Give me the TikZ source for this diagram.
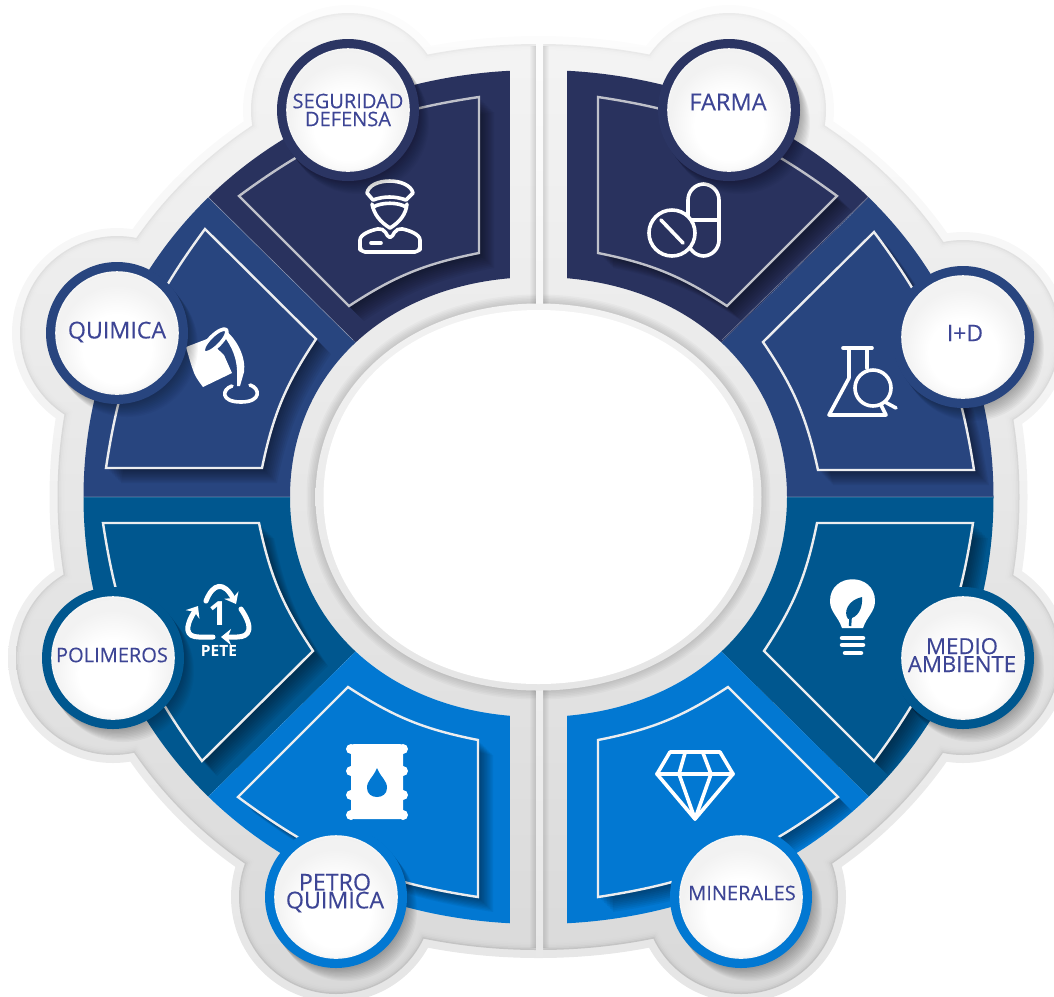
\documentclass[tikz,border=0pt]{standalone}
\usepackage{fontspec}
\setmainfont{Open Sans}
\newfontfamily\labelfont[FakeBold=0.2]{Open Sans}
\usetikzlibrary{arrows.meta}
\definecolor{navy}{HTML}{2B3563}
\definecolor{navyin}{HTML}{29325E}
\definecolor{royal}{HTML}{28457F}
\definecolor{petrol}{HTML}{00578F}
\definecolor{azure}{HTML}{0278D2}
\definecolor{labelblue}{HTML}{3D4595}
\definecolor{edgenavy}{HTML}{BFC1CA}
\definecolor{edgelight}{HTML}{ECEDEF}
\pgfdeclareradialshading{badgeface}{\pgfpoint{0bp}{-9bp}}{color(0bp)=(white); color(14bp)=(white); color(24bp)=(white!90!gray); color(50bp)=(white!86!gray)}

% squarish oval round the centre: x radius, y radius, handle length
\newcommand{\ovalpath}[3]{({538.5-(#1)},497)
  .. controls ({538.5-(#1)},{497-(#3)*(#2)}) and ({538.5-(#3)*(#1)},{497-(#2)}) .. (538.5,{497-(#2)})
  .. controls ({538.5+(#3)*(#1)},{497-(#2)}) and ({538.5+(#1)},{497-(#3)*(#2)}) .. ({538.5+(#1)},497)
  .. controls ({538.5+(#1)},{497+(#3)*(#2)}) and ({538.5+(#3)*(#1)},{497+(#2)}) .. (538.5,{497+(#2)})
  .. controls ({538.5-(#3)*(#1)},{497+(#2)}) and ({538.5-(#1)},{497+(#3)*(#2)}) .. ({538.5-(#1)},497) -- cycle}
% panel outline, clockwise from the outer arc
\newcommand{\panelpath}[4]{#1 to[bend left=14] #2 -- #3 to[bend right=11] #4 -- cycle}
\newcommand{\backingpath}[1]{\ovalpath{481+#1}{453+#1}{0.58}
  (348,110) circle ({97+#1}) (729,110) circle ({97+#1})
  (117,333) circle ({97+#1}) (963,337) circle ({97+#1})
  (113,658) circle ({97+#1}) (963,658) circle ({97+#1})
  (336,897) circle ({97+#1}) (741,897) circle ({97+#1})}
\newcommand{\sectorpanel}[7]{
  \begin{scope}
    \clip #2;
    \fill[#1] #2;
    \foreach \s in {1,...,10} {
      \fill[black,opacity=0.05,shift={(\s*1.5,\s*1.5)}] \panelpath{#3}{#4}{#5}{#6};
    }
    \fill[#1] \panelpath{#3}{#4}{#5}{#6};
    \draw[#7,line width=0.024cm] \panelpath{#3}{#4}{#5}{#6};
  \end{scope}
}

\begin{document}
\begin{tikzpicture}[
  x=0.01cm,y=-0.01cm,
  badge/.style={circle,minimum size=1.22cm,inner sep=0pt,shading=badgeface,
    draw=white!92!gray,line width=0.015cm},
  iconline/.style={draw=white,line width=0.036cm,line join=round,line cap=round},
  recycle/.style={iconline,line width=0.05cm,-{Stealth[length=0.1cm,width=0.16cm]}},
  tag/.style={font=\labelfont\fontsize{#1}{5.1}\selectfont,text=labelblue,align=center}
  ]
  \useasboundingbox (0,0) rectangle (1054,996);

  % grey backing
  \shade[top color=white!98!gray,middle color=white!93!gray,bottom color=white!80!gray] \backingpath{8};
  \shade[top color=white!84!gray,middle color=white!74!gray,bottom color=white!52!gray] \backingpath{0};
  \foreach \d in {1,...,5} {
    \shade[opacity=0.45,top color=white!93!gray,middle color=white!84!gray,bottom color=white!72!gray] \backingpath{-\d*1.5};
  }
  \foreach \d in {1,...,6} {
    \fill[black,opacity=0.02] (536-\d,46) rectangle (543+\d,948);
    \fill[black,opacity=0.025] \ovalpath{223+\d*1.5}{193.5+\d*1.5}{0.575};
  }
  \shade[top color=white!98!gray,middle color=white!92!gray,bottom color=white!82!gray] (536,38) rectangle (543,956);
  \shade[top color=white!90!gray,bottom color=white!80!gray] \ovalpath{223}{193.5}{0.575};
  \fill[white] \ovalpath{215}{187}{0.58};

  % coloured ring
  \begin{scope}[even odd rule]
    \clip \ovalpath{455}{427}{0.57} \ovalpath{248.5}{220}{0.585};
    \sectorpanel{navyin}{(510,0) -- (90,0) -- (90,81) -- (420,406) -- (510,406) -- cycle}
      {(239,196)}{(479,97)}{(479,253)}{(349,306)}{edgenavy}
    \sectorpanel{navyin}{(567,0) -- (987,0) -- (987,81) -- (657,406) -- (567,406) -- cycle}
      {(598,97)}{(837,196)}{(727,306)}{(598,253)}{edgenavy}
    \sectorpanel{royal}{(987,81) -- (657,406) -- (657,497) -- (1054,497) -- (1054,81) -- cycle}
      {(874,232)}{(974,470)}{(818,470)}{(763,342)}{edgelight}
    \sectorpanel{royal}{(90,81) -- (420,406) -- (420,497) -- (0,497) -- (0,81) -- cycle}
      {(106,468)}{(205,229)}{(316,339)}{(262,468)}{edgelight}
    \sectorpanel{petrol}{(657,497) -- (1054,497) -- (1054,913) -- (987,913) -- (657,588) -- cycle}
      {(973,523)}{(874,761)}{(764,651)}{(817,523)}{edgelight}
    \sectorpanel{petrol}{(0,497) -- (420,497) -- (420,588) -- (90,913) -- (0,913) -- cycle}
      {(202,761)}{(103,523)}{(259,523)}{(313,651)}{edgelight}
    \sectorpanel{azure}{(567,996) -- (987,996) -- (987,913) -- (657,588) -- (567,588) -- cycle}
      {(838,797)}{(598,897)}{(598,740)}{(728,687)}{edgelight}
    \sectorpanel{azure}{(510,996) -- (90,996) -- (90,913) -- (420,588) -- (510,588) -- cycle}
      {(478,897)}{(238,797)}{(348,687)}{(478,740)}{edgelight}
    \draw[white,opacity=0.35,line width=0.006cm] (83,497) -- (290,497) (787,497) -- (993,497)
      (208,197) -- (353,340) (868,197) -- (722,340);
  \end{scope}

  % icons
  \draw[iconline] (367,193) .. controls (370,177) and (409,177) .. (413,193) -- (406,200)
    .. controls (395,196) and (384,196) .. (373,200) -- cycle;
  \draw[iconline] (373,207) .. controls (382,202) and (398,202) .. (406,207);
  \draw[iconline] (372,204) .. controls (374,214) and (380,222) .. (390,228)
    .. controls (400,222) and (406,214) .. (407,204);
  \draw[iconline,rounded corners=0.05cm] (360,252) -- (360,245) .. controls (360,234) and (372,230) .. (383,228)
    -- (390,240) -- (397,228) .. controls (408,230) and (420,234) .. (420,245) -- (420,252) -- cycle;
  \draw[iconline] (371,243) -- (381,243);

  \draw[iconline,rounded corners=0.16cm] (688,184) rectangle (719,256);
  \draw[iconline] (688,220) -- (719,220);
  \filldraw[iconline,fill=navyin] (672,233) circle (23);
  \draw[iconline] (661,220) -- (683,243);

  \fill[white] (186,347) -- (207,339) -- (224,355) -- (232,373) -- (203,387)
    .. controls (194,375) .. (186,347) -- cycle;
  \fill[white] (224,329) .. controls (238,340) and (246,358) .. (244,372) -- (240,386) -- (237,386)
    -- (237,370) .. controls (236,352) and (228,342) .. (222,333) -- cycle;
  \filldraw[iconline,fill=royal,rotate around={45:(215,341)}] (215,341) ellipse (16 and 5.5);
  \draw[iconline] (232,386) .. controls (222,389) and (220,402) .. (241,402)
    .. controls (262,402) and (260,388) .. (250,385);

  \fill[white,rounded corners=0.03cm] (351,744) rectangle (403,819);
  \foreach \y in {749,771,795,815} {
    \fill[white] (351,\y) circle (5) (403,\y) circle (5);
  }
  \fill[azure] (377,768) .. controls (373,778) and (367,780) .. (367,788)
    .. controls (367,800) and (387,800) .. (387,788) .. controls (387,780) and (381,778) .. (377,768) -- cycle;

  \draw[iconline] (670,752) -- (720,752) -- (733,774) -- (695,819) -- (657,774) -- cycle;
  \draw[iconline] (657,774) -- (733,774);
  \draw[iconline] (685,753) -- (679,774) -- (695,819) -- (711,774) -- (703,753);

  \fill[white] (842,628) .. controls (838,616) and (830,612) .. (830,601)
    .. controls (830,572) and (875,572) .. (875,601)
    .. controls (875,612) and (867,616) .. (863,628) -- cycle;
  \fill[petrol] (862,597) .. controls (848,600) and (843,612) .. (848,619)
    .. controls (858,618) and (863,608) .. (862,597) -- cycle;
  \draw[petrol,line width=0.025cm] (851,612) -- (850,626);
  \foreach \y/\xa/\xb in {638/842/863,645/842/863,653/845/861} {
    \draw[iconline,line width=0.045cm] (\xa,\y) -- (\xb,\y);
  }

  \draw[iconline] (843,348) -- (872,348);
  \draw[iconline] (849,349) -- (849,378) -- (829,415) -- (886,415) -- (880,403);
  \draw[iconline] (867,349) -- (867,368);
  \filldraw[iconline,fill=royal] (873,388) circle (18);
  \draw[iconline] (885,402) -- (896,408);

  \draw[recycle] (206,601) .. controls (213,583) and (224,581) .. (236,604);
  \draw[recycle] (241,609) .. controls (254,628) and (250,637) .. (237,637) -- (221,637);
  \draw[recycle] (213,637) -- (199,637) .. controls (186,637) and (184,628) .. (198,606);
  \node[text=white,font=\fontsize{9.5}{10}\bfseries\selectfont] (numone) at (218,614) {1};
  \node[text=white,font=\fontsize{4.4}{4}\bfseries\selectfont] (pete) at (219,651) {PETE};

  % badges
  \foreach \px/\py/\ring in {348/110/navy,729/110/navy,117/333/royal,963/337/royal,
    113/658/petrol,963/658/petrol,336/897/azure,741/897/azure} {
    \foreach \s in {1,...,10} {
      \fill[black,opacity=0.03] (\px+\s*1,\py+\s*1.3) circle (71);
    }
    \fill[\ring] (\px,\py) circle (71);
  }
  \node[badge] (seguridad) at (348,110) {};
  \node[badge] (farma) at (729,110) {};
  \node[badge] (quimica) at (117,333) {};
  \node[badge] (imasd) at (963,337) {};
  \node[badge] (polimeros) at (113,658) {};
  \node[badge] (medio) at (963,658) {};
  \node[badge] (petro) at (336,897) {};
  \node[badge] (minerales) at (741,897) {};

  \node[tag=5.7] (seguridadtxt) at (348,110) {SEGURIDAD\\DEFENSA};
  \node[tag=6.7] (farmatxt) at (728,102) {FARMA};
  \node[tag=6.6] (quimicatxt) at (117,332) {QUIMICA};
  \node[tag=6.5] (imasdtxt) at (965,333) {I+D};
  \node[tag=5.7] (polimerostxt) at (112,655) {POLIMEROS};
  \node[tag=6.3] (mediotxt) at (962,655) {MEDIO\\AMBIENTE};
  \node[tag=6.6] (petrotxt) at (335,893) {PETRO\\QUIMICA};
  \node[tag=5.7] (mineralestxt) at (742,893) {MINERALES};
\end{tikzpicture}
\end{document}
